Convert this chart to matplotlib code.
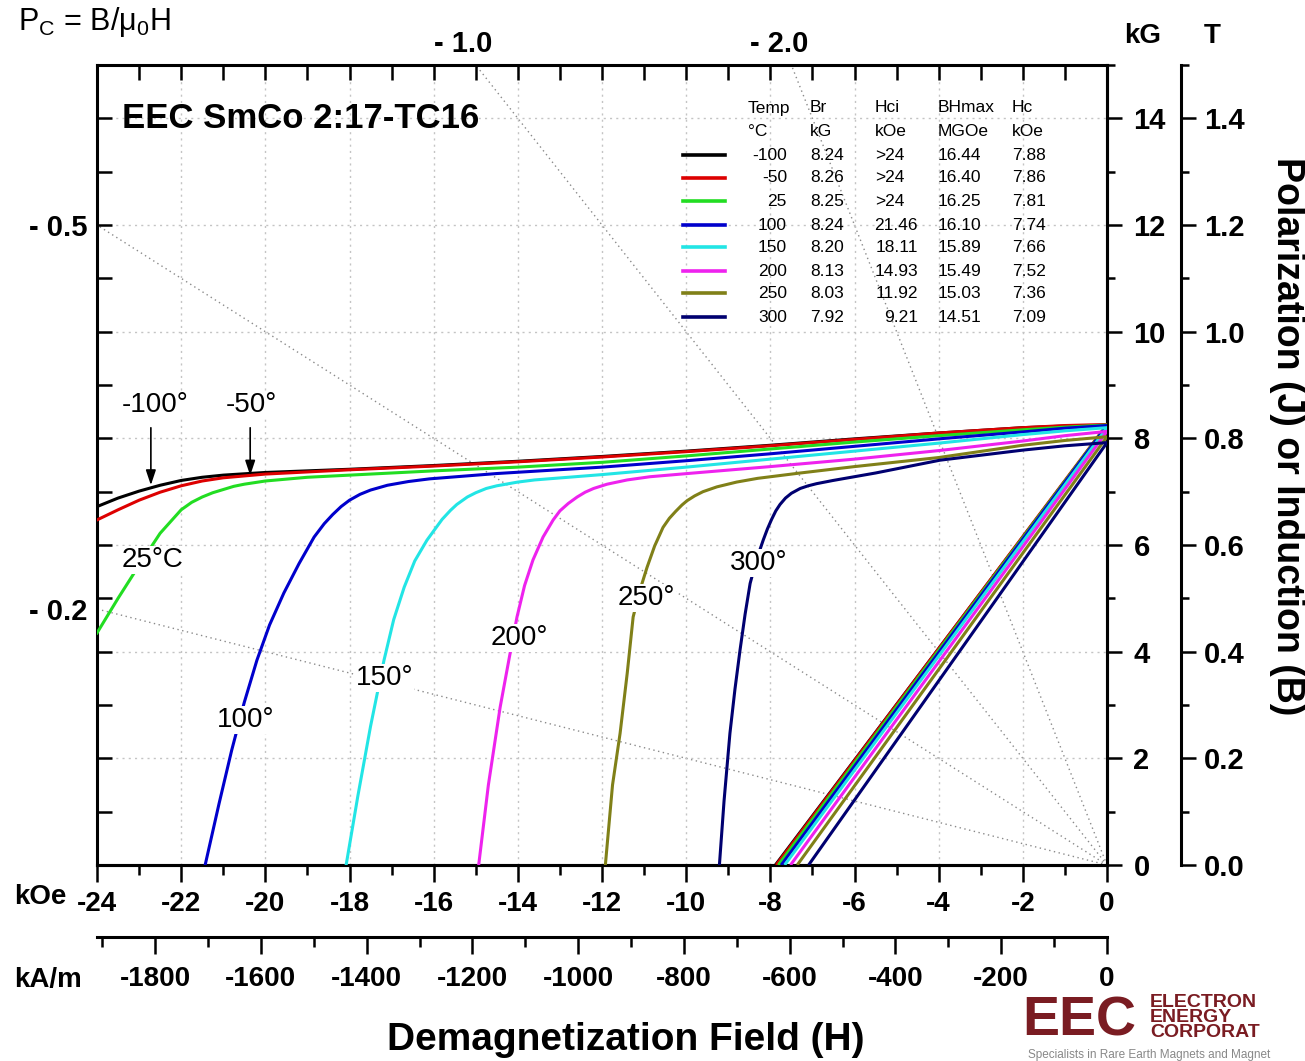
import matplotlib
matplotlib.use("Agg")
import matplotlib.pyplot as plt
from matplotlib.lines import Line2D
from matplotlib.ticker import MultipleLocator

plt.rcParams['font.family'] = ['Liberation Sans', 'DejaVu Sans']

# ---------------- data ----------------
temps = [-100, -50, 25, 100, 150, 200, 250, 300]
colors = ['#000000', '#dd0000', '#22dd22', '#0000cc', '#22e5e5', '#ee22ee', '#808018', '#000070']
br_kg = [8.24, 8.26, 8.25, 8.24, 8.20, 8.13, 8.03, 7.92]
hci_txt = ['>24', '>24', '>24', '21.46', '18.11', '14.93', '11.92', '9.21']
bhmax = [16.44, 16.40, 16.25, 16.10, 15.89, 15.49, 15.03, 14.51]
hc_koe = [7.88, 7.86, 7.81, 7.74, 7.66, 7.52, 7.36, 7.09]

# intrinsic (J) curves, H in kOe, J in kG
H_m100 = [-24, -23.5, -23, -22.5, -22, -21.5, -21, -20, -18, -16, -14, -12, -10, -8, -6, -4, -2, -1, 0]
J_m100 = [6.72, 6.88, 7.01, 7.12, 7.21, 7.27, 7.31, 7.36, 7.42, 7.49, 7.57, 7.66, 7.76, 7.87, 7.99, 8.10, 8.20, 8.23, 8.24]
H_m50 = [-24, -23.5, -23, -22.5, -22, -21.5, -21, -20, -18, -16, -14, -12, -10, -8, -6, -4, -2, -1, 0]
J_m50 = [6.47, 6.66, 6.84, 6.99, 7.11, 7.20, 7.26, 7.33, 7.41, 7.48, 7.56, 7.65, 7.75, 7.86, 7.98, 8.10, 8.20, 8.24, 8.26]
H_25 = [-24, -23.5, -23, -22.5, -22, -21.75, -21.5, -21.25, -21, -20.75, -20.5, -20, -19, -18, -16, -14, -12, -10, -8, -6, -4, -2, -1, 0]
J_25 = [4.35, 5.0, 5.62, 6.22, 6.66, 6.8, 6.9, 6.98, 7.04, 7.1, 7.14, 7.20, 7.27, 7.31, 7.39, 7.46, 7.55, 7.67, 7.80, 7.93, 8.05, 8.16, 8.21, 8.25]
H_100 = [-21.43, -21.1, -20.8, -20.5, -20.2, -19.9, -19.56, -19.2, -18.84, -18.6, -18.4, -18.2, -18.0, -17.75, -17.5, -17.1, -16.6, -16.1, -14.5, -12, -10, -8, -6, -4, -2, -1, 0]
J_100 = [0, 1.15, 2.15, 3.05, 3.84, 4.5, 5.1, 5.65, 6.15, 6.4, 6.57, 6.72, 6.84, 6.95, 7.03, 7.12, 7.19, 7.24, 7.34, 7.46, 7.58, 7.71, 7.85, 7.99, 8.12, 8.19, 8.24]
H_150 = [-18.08, -17.8, -17.5, -17.18, -16.95, -16.7, -16.45, -16.16, -15.8, -15.6, -15.45, -15.2, -15.0, -14.75, -14.5, -14.0, -13.6, -12, -10, -8, -6, -4, -2, -1, 0]
J_150 = [0, 1.3, 2.6, 3.84, 4.6, 5.21, 5.7, 6.09, 6.48, 6.65, 6.76, 6.9, 6.98, 7.06, 7.11, 7.18, 7.22, 7.32, 7.46, 7.61, 7.76, 7.91, 8.07, 8.14, 8.20]
H_200 = [-14.93, -14.7, -14.42, -14.2, -14.02, -13.84, -13.64, -13.4, -13.16, -13.0, -12.8, -12.59, -12.4, -12.2, -11.88, -11.4, -10.86, -9.67, -8, -6, -4, -2, -1, 0]
J_200 = [0, 1.5, 2.96, 3.9, 4.65, 5.24, 5.72, 6.15, 6.47, 6.64, 6.78, 6.9, 6.99, 7.06, 7.14, 7.22, 7.28, 7.36, 7.47, 7.61, 7.77, 7.95, 8.05, 8.13]
H_250 = [-11.92, -11.75, -11.57, -11.4, -11.26, -11.1, -10.93, -10.75, -10.55, -10.4, -10.25, -10.1, -9.98, -9.8, -9.6, -9.27, -8.8, -8.3, -7.29, -6, -4, -2, -1, 0]
J_250 = [0, 1.5, 2.47, 3.6, 4.65, 5.15, 5.58, 5.98, 6.33, 6.5, 6.63, 6.75, 6.83, 6.92, 7.0, 7.09, 7.18, 7.25, 7.35, 7.47, 7.64, 7.87, 7.96, 8.03]
H_300 = [-9.21, -9.1, -8.96, -8.84, -8.72, -8.6, -8.48, -8.33, -8.17, -8.07, -7.97, -7.87, -7.77, -7.64, -7.5, -7.29, -7.1, -6.9, -6.51, -5.5, -3.97, -1.99, -1, 0]
J_300 = [0, 1.2, 2.47, 3.3, 4.03, 4.7, 5.28, 5.72, 6.09, 6.3, 6.48, 6.64, 6.76, 6.88, 6.97, 7.06, 7.11, 7.15, 7.21, 7.35, 7.59, 7.78, 7.86, 7.92]

H_curves = [H_m100, H_m50, H_25, H_100, H_150, H_200, H_250, H_300]
J_curves = [J_m100, J_m50, J_25, J_100, J_150, J_200, J_250, J_300]

pc_values = [-0.2, -0.5, -1.0, -2.0]
curve_labels = ['-100°', '-50°', '25°C', '100°', '150°', '200°', '250°', '300°']

KAM_PER_KOE = 79.5775

# ---------------- figure ----------------
W, HH = 1305, 1061
fig = plt.figure(figsize=(W / 100, HH / 100), dpi=100)


def fx(x):
    return x / W


def fy(y):
    return 1 - y / HH


ax = fig.add_axes([fx(97), fy(865), 1010 / W, 800 / HH])
ax.set_xlim(-24, 0)
ax.set_ylim(0, 15)

for s in ax.spines.values():
    s.set_linewidth(2.2)

ax.xaxis.set_major_locator(MultipleLocator(2))
ax.xaxis.set_minor_locator(MultipleLocator(1))
ax.yaxis.set_major_locator(MultipleLocator(2))
ax.yaxis.set_minor_locator(MultipleLocator(1))
ax.tick_params(axis='x', which='both', bottom=False, top=True, labelbottom=False,
               direction='in', length=11, width=1.8)
ax.tick_params(axis='y', which='both', left=True, right=False, labelleft=False,
               direction='in', length=11, width=1.8)
ax.grid(True, which='major', color='#c4c4c4', linestyle=(0, (1.5, 3)), linewidth=1)

# load lines
for p in pc_values:
    ax.plot([0, -24], [0, p * -24], color='#8a8a8a', linestyle=(0, (1, 2.5)), linewidth=1, zorder=1)
    if p * -24 <= 15:
        ax.annotate(f'- {abs(p):.1f}', xy=(-24, p * -24), xytext=(-7, 0), textcoords='offset points',
                    ha='right', va='center_baseline', fontsize=21, fontweight='bold', annotation_clip=False)
    else:
        ax.annotate(f'- {abs(p):.1f}', xy=(15 / p, 15), xytext=(-9, 9), textcoords='offset points',
                    ha='center', va='baseline', fontsize=21, fontweight='bold', annotation_clip=False)

# normal (B) curves: straight from (-Hc, 0) to (0, Br)
for c, br, hc in zip(colors, br_kg, hc_koe):
    ax.plot([-hc, 0], [0, br], color=c, linewidth=2.2, zorder=3, solid_capstyle='butt')

# intrinsic curves
for c, hs, js in zip(colors, H_curves, J_curves):
    ax.plot(hs, js, color=c, linewidth=2.2, zorder=3, solid_joinstyle='round')

# curve labels (white boxes interrupt the curves as in the original)
label_pos = [(-22.62, 8.62), (-20.32, 8.62), (-22.67, 5.72), (-20.48, 2.72),
             (-17.16, 3.50), (-13.97, 4.25), (-10.95, 5.0), (-8.27, 5.66)]
for t, (x, y) in zip(curve_labels, label_pos):
    ax.text(x, y, t, fontsize=20, ha='center', va='center', zorder=5,
            bbox=dict(facecolor='white', edgecolor='none', pad=0.5))
for x, y0, y1 in [(-22.72, 8.25, 7.07), (-20.36, 8.25, 7.25)]:
    ax.annotate('', xy=(x, y1), xytext=(x, y0),
                arrowprops=dict(arrowstyle='-|>,head_length=0.9,head_width=0.3', color='k', lw=1.2),
                zorder=5)

fig.text(fx(122), fy(128), 'EEC SmCo 2:17-TC16', fontsize=25, fontweight='bold', ha='left', va='baseline')

# ---------- bottom kOe axis ----------
sk = ax.secondary_xaxis('bottom')
sk.spines['bottom'].set_linewidth(2.2)
sk.set_xticks(list(range(-24, 1, 2)), labels=[str(v) for v in range(-24, 1, 2)],
              fontweight='bold', fontsize=20)
sk.xaxis.set_minor_locator(MultipleLocator(1))
sk.tick_params(which='major', direction='out', length=12, width=1.8, pad=7)
sk.tick_params(which='minor', direction='out', length=7, width=1.8)

# ---------- bottom kA/m axis ----------
sa = ax.secondary_xaxis(-0.09, functions=(lambda h: h * KAM_PER_KOE, lambda a: a / KAM_PER_KOE))
sa.spines['bottom'].set_linewidth(2.2)
ka_ticks = list(range(-1800, 1, 200))
sa.set_xticks(ka_ticks, labels=[str(v) for v in ka_ticks], fontweight='bold', fontsize=20)
sa.xaxis.set_minor_locator(MultipleLocator(100))
sa.tick_params(which='major', direction='out', length=12, width=1.8, pad=9)
sa.tick_params(which='minor', direction='out', length=7, width=1.8)

fig.text(fx(40), fy(897), 'kOe', fontweight='bold', fontsize=20, ha='center', va='center')
fig.text(fx(48), fy(980), 'kA/m', fontweight='bold', fontsize=20, ha='center', va='center')
fig.text(fx(626), fy(1040), 'Demagnetization Field (H)', fontweight='bold', fontsize=28, ha='center', va='center')

# ---------- right kG axis ----------
sg = ax.secondary_yaxis('right')
sg.spines['right'].set_linewidth(2.2)
sg.set_yticks(list(range(0, 15, 2)), labels=[str(v) for v in range(0, 15, 2)],
              fontweight='bold', fontsize=21)
sg.yaxis.set_minor_locator(MultipleLocator(1))
sg.tick_params(which='major', direction='out', length=11, width=1.8, pad=8)
sg.tick_params(which='minor', direction='out', length=6, width=1.8)

# ---------- right T axis ----------
st = ax.secondary_yaxis(1.073, functions=(lambda b: b / 10, lambda t: t * 10))
st.spines['right'].set_linewidth(2.2)
t_ticks = [0.0, 0.2, 0.4, 0.6, 0.8, 1.0, 1.2, 1.4]
st.set_yticks(t_ticks, labels=[f'{v:.1f}' for v in t_ticks], fontweight='bold', fontsize=21)
st.yaxis.set_minor_locator(MultipleLocator(0.1))
st.tick_params(which='major', direction='out', length=11, width=1.8, pad=6)
st.tick_params(which='minor', direction='out', length=6, width=1.8)

fig.text(fx(1143), fy(36), 'kG', fontweight='bold', fontsize=20, ha='center', va='center')
fig.text(fx(1212), fy(36), 'T', fontweight='bold', fontsize=20, ha='center', va='center')
fig.text(fx(1287), fy(436), 'Polarization (J) or Induction (B)', fontweight='bold', fontsize=27,
         rotation=-90, ha='center', va='center')

fig.text(fx(18), fy(22), r'P$_\mathregular{C}$ = B/$\mathregular{\mu_0}$H', fontsize=22, ha='left', va='center')

# ---------- legend table ----------
rows_y = [155, 178, 201, 225, 247, 271, 293, 317]
lfs = 12.5
for hx, h1, h2 in [(748, 'Temp', '°C'), (810, 'Br', 'kG'), (875, 'Hci', 'kOe'),
                   (938, 'BHmax', 'MGOe'), (1012, 'Hc', 'kOe')]:
    fig.text(fx(hx), fy(108), h1, fontsize=lfs, ha='left', va='center')
    fig.text(fx(hx), fy(131), h2, fontsize=lfs, ha='left', va='center')
for i, y in enumerate(rows_y):
    fig.add_artist(Line2D([fx(683), fx(725)], [fy(y), fy(y)], color=colors[i], linewidth=2.6,
                          transform=fig.transFigure))
    fig.text(fx(787), fy(y), str(temps[i]), fontsize=lfs, ha='right', va='center')
    fig.text(fx(810), fy(y), f'{br_kg[i]:.2f}', fontsize=lfs, ha='left', va='center')
    if hci_txt[i].startswith('>'):
        fig.text(fx(875), fy(y), hci_txt[i], fontsize=lfs, ha='left', va='center')
    else:
        fig.text(fx(918), fy(y), hci_txt[i], fontsize=lfs, ha='right', va='center')
    fig.text(fx(938), fy(y), f'{bhmax[i]:.2f}', fontsize=lfs, ha='left', va='center')
    fig.text(fx(1012), fy(y), f'{hc_koe[i]:.2f}', fontsize=lfs, ha='left', va='center')

# ---------- logo (as text) ----------
logo_red = '#7a1c22'
fig.text(fx(1022), fy(1036), 'EEC', fontsize=40, fontweight='bold', color=logo_red, ha='left', va='baseline')
fig.text(fx(1150), fy(1007), 'ELECTRON', fontsize=14, fontweight='bold', color=logo_red, ha='left', va='baseline')
fig.text(fx(1150), fy(1022), 'ENERGY', fontsize=14, fontweight='bold', color=logo_red, ha='left', va='baseline')
fig.text(fx(1150), fy(1037), 'CORPORAT', fontsize=14, fontweight='bold', color=logo_red, ha='left', va='baseline')
fig.text(fx(1028), fy(1055), 'Specialists in Rare Earth Magnets and Magnet', fontsize=8.5, color='#888888',
         ha='left', va='center')

fig.savefig('out.png', dpi=100)
